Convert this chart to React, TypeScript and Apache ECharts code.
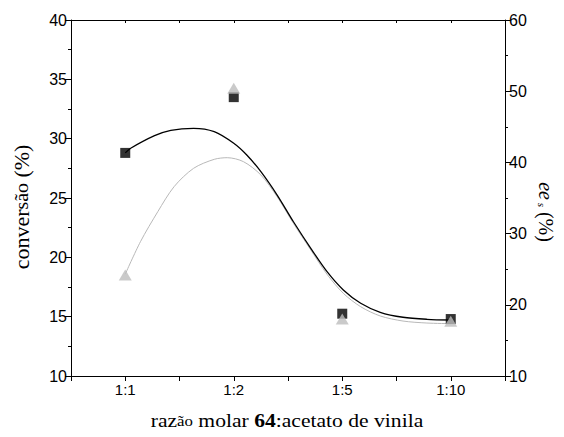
import React, { useEffect, useRef } from "react";
import * as echarts from "echarts";

const categories = ["1:1", "1:2", "1:5", "1:10"];
const conversao = [28.8, 33.5, 15.25, 14.8];
const ee = [24.2, 50.4, 18.0, 17.7];

const blackCurveX = [0, 0.05, 0.27, 0.42, 0.63, 0.82, 1.0, 1.12, 1.25, 1.4, 1.55, 1.71, 1.86, 2.01, 2.17, 2.35, 2.56, 2.78, 3.0];
const blackCurveY = [28.8, 29.19, 30.25, 30.7, 30.87, 30.59, 29.61, 28.62, 27.22, 25.25, 23.0, 20.76, 18.79, 17.25, 16.13, 15.37, 14.95, 14.78, 14.72];

const grayCurveX = [0, 0.14, 0.3, 0.45, 0.63, 0.82, 0.94, 1.09, 1.25, 1.4, 1.55, 1.71, 1.86, 2.01, 2.17, 2.35, 2.56, 2.78, 3.0];
const grayCurveY = [24.3, 28.86, 33.08, 36.59, 39.17, 40.43, 40.66, 40.1, 38.23, 35.18, 31.44, 27.7, 24.28, 21.61, 19.73, 18.43, 17.72, 17.44, 17.35];

const SERIF = "Liberation Serif, Times New Roman, serif";
const SANS = "Liberation Sans, Arial, sans-serif";

export default function App() {
  const ref = useRef<HTMLDivElement>(null);
  useEffect(() => {
    document.body.style.margin = "0";
    if (!ref.current) return;
    const chart = echarts.init(ref.current, null, { renderer: "svg" });
    const axisLine = { show: true, onZero: false, lineStyle: { color: "#000", width: 1 } };
    const yLabel = { color: "#000", fontSize: 16, fontFamily: SANS, margin: 4 };
    chart.setOption({
      animation: false,
      backgroundColor: "#fff",
      grid: { left: 71, right: 59, top: 20, bottom: 61 },
      xAxis: [
        {
          type: "value",
          position: "bottom",
          min: -0.5,
          max: 3.5,
          interval: 0.5,
          axisLine,
          axisTick: { show: true, inside: false, length: 5, lineStyle: { color: "#000" } },
          splitLine: { show: false },
          axisLabel: {
            color: "#000",
            fontSize: 15,
            fontFamily: SANS,
            margin: 6,
            showMinLabel: true,
            showMaxLabel: true,
            formatter: (v: number) => (Number.isInteger(v) && v >= 0 && v < categories.length ? categories[v] : ""),
          },
        },
        {
          type: "value",
          position: "top",
          min: -0.5,
          max: 3.5,
          interval: 0.5,
          axisLine,
          axisTick: { show: true, inside: true, length: 3, lineStyle: { color: "#000" } },
          splitLine: { show: false },
          axisLabel: { show: false },
        },
      ],
      yAxis: [
        {
          type: "value",
          position: "left",
          min: 10,
          max: 40,
          interval: 5,
          axisLine,
          axisTick: { show: true, inside: false, length: 6, lineStyle: { color: "#000" } },
          minorTick: { show: true, splitNumber: 2, length: 3, lineStyle: { color: "#000" } },
          splitLine: { show: false },
          axisLabel: yLabel,
        },
        {
          type: "value",
          position: "right",
          min: 10,
          max: 60,
          interval: 10,
          axisLine,
          axisTick: { show: true, inside: false, length: 6, lineStyle: { color: "#000" } },
          minorTick: { show: true, splitNumber: 2, length: 3, lineStyle: { color: "#000" } },
          splitLine: { show: false },
          axisLabel: yLabel,
        },
      ],
      series: [
        {
          type: "line",
          xAxisIndex: 0,
          yAxisIndex: 1,
          smooth: 0.3,
          showSymbol: false,
          lineStyle: { color: "#b8b8b8", width: 1 },
          data: grayCurveX.map((x, i) => [x, grayCurveY[i]]),
          z: 2,
        },
        {
          type: "line",
          xAxisIndex: 0,
          yAxisIndex: 0,
          smooth: 0.3,
          showSymbol: false,
          lineStyle: { color: "#000", width: 1.3 },
          data: blackCurveX.map((x, i) => [x, blackCurveY[i]]),
          z: 3,
        },
        {
          type: "scatter",
          xAxisIndex: 0,
          yAxisIndex: 0,
          symbol: "rect",
          symbolSize: 10,
          itemStyle: { color: "#000" },
          data: conversao.map((v, i) => [i, v]),
          z: 4,
        },
        {
          type: "scatter",
          xAxisIndex: 0,
          yAxisIndex: 1,
          symbol: "triangle",
          symbolSize: [13, 11],
          itemStyle: { color: "#bdbdbd" },
          data: ee.map((v, i) => [i, v]),
          z: 5,
        },
      ],
      graphic: [
        {
          type: "text",
          x: 287,
          y: 421,
          scaleX: 1.2,
          style: {
            text: "{n|raz}{s|ão}{n| molar }{b|64}{n|:acetato de vinila}",
            align: "center",
            verticalAlign: "middle",
            rich: {
              n: { fontFamily: SERIF, fontSize: 18, fill: "#000" },
              s: { fontFamily: SERIF, fontSize: 14, fill: "#000" },
              b: { fontFamily: SERIF, fontSize: 18, fontWeight: "bold", fill: "#000" },
            },
          },
        },
        {
          type: "text",
          x: 22,
          y: 207,
          rotation: Math.PI / 2,
          scaleX: 1.1,
          style: {
            text: "{n|conver}{s|são}{n| (%)}",
            align: "center",
            verticalAlign: "middle",
            rich: {
              n: { fontFamily: SERIF, fontSize: 20, fill: "#000" },
              s: { fontFamily: SERIF, fontSize: 18, fill: "#000" },
            },
          },
        },
        {
          type: "text",
          x: 546,
          y: 212,
          rotation: -Math.PI / 2,
          style: {
            text: "{i|ee}{sub| s}{n| (%)}",
            align: "center",
            verticalAlign: "middle",
            rich: {
              i: { fontFamily: SERIF, fontSize: 20, fontStyle: "italic", fill: "#000" },
              sub: { fontFamily: SERIF, fontSize: 11, fontStyle: "italic", fill: "#000", verticalAlign: "bottom" },
              n: { fontFamily: SERIF, fontSize: 20, fill: "#000" },
            },
          },
        },
      ],
    });
    return () => chart.dispose();
  }, []);
  return <div ref={ref} style={{ width: 564, height: 437 }} />;
}
